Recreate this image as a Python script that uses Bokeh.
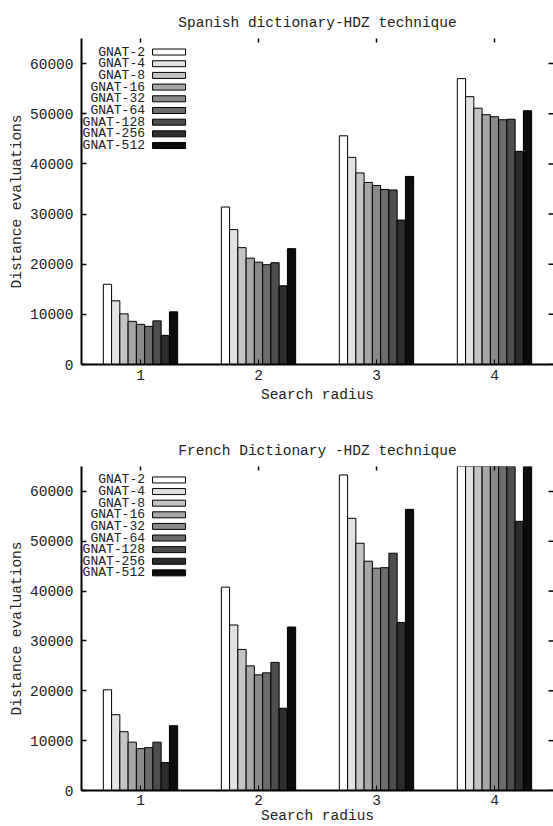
import math
from bokeh.plotting import figure
from bokeh.models import ColumnDataSource, FixedTicker, Range1d
from bokeh.layouts import column
from bokeh.embed import file_html
from bokeh.resources import INLINE
from bokeh.core.properties import value

# ---------------- data ----------------
radii = [1, 2, 3, 4]
series = ["GNAT-2", "GNAT-4", "GNAT-8", "GNAT-16", "GNAT-32",
          "GNAT-64", "GNAT-128", "GNAT-256", "GNAT-512"]
colors = ["#ffffff", "#e2e2e2", "#c4c4c4", "#a7a7a7", "#8a8a8a",
          "#6c6c6c", "#4d4d4d", "#2d2d2d", "#0c0c0c"]
y_ticks = [0, 10000, 20000, 30000, 40000, 50000, 60000]

# Spanish dictionary (values per search radius 1..4)
es_gnat2 = [16000, 31400, 45600, 57000]
es_gnat4 = [12700, 26900, 41300, 53400]
es_gnat8 = [10100, 23300, 38200, 51100]
es_gnat16 = [8600, 21200, 36300, 49800]
es_gnat32 = [8000, 20400, 35700, 49400]
es_gnat64 = [7600, 19900, 34900, 48800]
es_gnat128 = [8700, 20300, 34800, 48900]
es_gnat256 = [5800, 15700, 28800, 42500]
es_gnat512 = [10500, 23100, 37500, 50600]

# French dictionary (radius 4 bars run off the top of the axis)
fr_gnat2 = [20200, 40800, 63300, 78000]
fr_gnat4 = [15200, 33200, 54600, 72000]
fr_gnat8 = [11800, 28300, 49600, 69000]
fr_gnat16 = [9700, 25000, 46000, 67500]
fr_gnat32 = [8400, 23200, 44600, 66500]
fr_gnat64 = [8600, 23600, 44700, 66000]
fr_gnat128 = [9700, 25700, 47600, 67000]
fr_gnat256 = [5600, 16500, 33700, 54000]
fr_gnat512 = [13000, 32800, 56400, 70000]

spanish = [es_gnat2, es_gnat4, es_gnat8, es_gnat16, es_gnat32,
           es_gnat64, es_gnat128, es_gnat256, es_gnat512]
french = [fr_gnat2, fr_gnat4, fr_gnat8, fr_gnat16, fr_gnat32,
          fr_gnat64, fr_gnat128, fr_gnat256, fr_gnat512]

# ---------------- style ----------------
FONT = "Liberation Mono"
FS = "14.5px"
TXT = "#222222"
BAR_W = 0.07
X_LO, X_HI = 0.5, 4.5
Y_LO, Y_HI = 0, 65000
LEG_TEXT_X = 1.038
LEG_SWATCH_X = 1.242
LEG_Y0 = 62300
LEG_STEP = 2330


def make_chart(title, values, height, border_top, border_bottom,
               tick_standoff, label_standoff):
    p = figure(width=553, height=height,
               x_range=Range1d(X_LO, X_HI), y_range=Range1d(Y_LO, Y_HI),
               output_backend="svg", toolbar_location=None,
               min_border_left=81, min_border_right=0,
               min_border_top=border_top, min_border_bottom=border_bottom,
               title=title)
    p.outline_line_color = None
    p.grid.visible = False
    p.background_fill_color = "white"
    p.border_fill_color = "white"

    p.title.text_font = FONT
    p.title.text_font_size = FS
    p.title.text_font_style = "normal"
    p.title.text_color = TXT
    p.title.align = "center"
    p.title.standoff = 16

    for i, (name, vals) in enumerate(zip(series, values)):
        off = (i - (len(series) - 1) / 2) * BAR_W
        src = ColumnDataSource(dict(x=[r + off for r in radii], top=vals))
        p.vbar(x="x", top="top", bottom=0, width=BAR_W, source=src,
               fill_color=colors[i], line_color="black", line_width=1)

    # mirror ticks on the top and right edges (half of each dash is clipped
    # by the frame, leaving an inward tick)
    p.scatter(x=radii, y=[Y_HI] * len(radii), marker="dash", size=8,
              angle=math.pi / 2, line_color="black", line_width=1.5)
    p.scatter(x=[X_HI] * len(y_ticks), y=y_ticks, marker="dash", size=10,
              line_color="black", line_width=1.5)

    # legend (text on the left, swatch on the right, gnuplot style)
    n = len(series)
    leg = ColumnDataSource(dict(
        tx=[LEG_TEXT_X] * n, sx=[LEG_SWATCH_X] * n,
        y=[LEG_Y0 - k * LEG_STEP for k in range(n)],
        name=series, color=colors))
    p.text(x="tx", y="y", text="name", source=leg, text_align="right",
           text_baseline="middle", text_font=value(FONT),
           text_font_size="13px", text_color=TXT)
    p.rect(x="sx", y="y", width=33, height=6, width_units="screen",
           height_units="screen", source=leg, fill_color="color",
           line_color="black", line_width=1)

    xa = p.below[0]
    xa.ticker = FixedTicker(ticks=radii)
    xa.axis_label = "Search radius"
    xa.axis_line_width = 2
    xa.axis_line_color = "black"
    xa.major_tick_in = 5
    xa.major_tick_out = 0
    xa.minor_tick_line_color = None
    xa.major_label_standoff = tick_standoff
    xa.axis_label_standoff = label_standoff
    xa.major_label_text_font = FONT
    xa.major_label_text_font_size = FS
    xa.major_label_text_color = TXT
    xa.axis_label_text_font = FONT
    xa.axis_label_text_font_size = FS
    xa.axis_label_text_font_style = "normal"
    xa.axis_label_text_color = TXT

    ya = p.left[0]
    ya.ticker = FixedTicker(ticks=y_ticks)
    ya.axis_label = "Distance evaluations"
    ya.axis_line_width = 2
    ya.axis_line_color = "black"
    ya.major_tick_in = 5
    ya.major_tick_out = 0
    ya.major_tick_line_width = 1.5
    ya.minor_tick_line_color = None
    ya.major_label_standoff = 8
    ya.axis_label_standoff = 2
    ya.major_label_text_font = FONT
    ya.major_label_text_font_size = FS
    ya.major_label_text_color = TXT
    ya.axis_label_text_font = FONT
    ya.axis_label_text_font_size = FS
    ya.axis_label_text_font_style = "normal"
    ya.axis_label_text_color = TXT
    return p


p1 = make_chart("Spanish dictionary-HDZ technique", spanish, 408, 38, 44, 5, 4)
p2 = make_chart("French Dictionary -HDZ technique", french, 418, 58, 34, 4, 0)

layout = column(p1, p2, spacing=0)
open("out.html", "w").write(file_html(layout, INLINE))
